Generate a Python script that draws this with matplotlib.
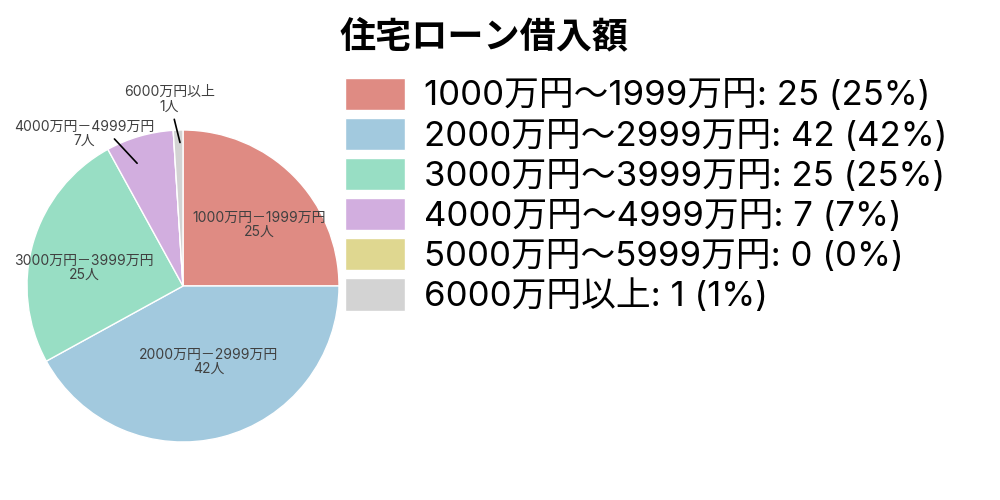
import numpy as np
import matplotlib
matplotlib.use("Agg")
import matplotlib.pyplot as plt

plt.rcParams['font.family'] = ['Inter', 'Noto Sans CJK JP', 'DejaVu Sans']

# data
pie_names = ["1000万円－1999万円", "2000万円－2999万円", "3000万円－3999万円",
             "4000万円－4999万円", "5000万円－5999万円", "6000万円以上"]
legend_names = ["1000万円〜1999万円", "2000万円〜2999万円", "3000万円〜3999万円",
                "4000万円〜4999万円", "5000万円〜5999万円", "6000万円以上"]
counts = [25, 42, 25, 7, 0, 1]
colors = ["#DF8B83", "#A2C9DE", "#98DEC4", "#D2AEDF", "#DFD790", "#D3D3D3"]

total = sum(counts)


def polar(r, deg):
    a = np.deg2rad(deg)
    return r * np.cos(a), r * np.sin(a)


fig = plt.figure(figsize=(10, 5), dpi=100)
ax = fig.add_axes([0.027, 0.116, 0.312, 0.624])

wedges, _ = ax.pie(counts, colors=colors, startangle=90, counterclock=False,
                   radius=1, wedgeprops=dict(edgecolor="white", linewidth=1))
ax.set_xlim(-1, 1)
ax.set_ylim(-1, 1)
ax.set_aspect("equal")
ax.axis("off")

# label layout: inside labels (radius, angle shift)
inside_pos = {0: (0.625, -6.3), 1: (0.515, 4.4), 2: (0.645, 5.8)}
# outside labels: (line start r, shift), (line end r, shift), (text r, shift)
outside_pos = {3: ((0.84, 4.3), (1.04, 8.8), (1.16, 16.8)),
               5: ((0.92, -0.6), (1.07, 1.2), (1.2, 2.4))}

for i, w in enumerate(wedges):
    if counts[i] == 0:
        continue
    mid = (w.theta1 + w.theta2) / 2
    txt = f"{pie_names[i]}\n{counts[i]}人"
    if i in inside_pos:
        r, d = inside_pos[i]
        ax.text(*polar(r, mid + d), txt, ha="center", va="center",
                fontsize=10, color="#404040", linespacing=1.0)
    else:
        (r1, d1), (r2, d2), (r3, d3) = outside_pos[i]
        ax.annotate("", xy=polar(r1, mid + d1), xytext=polar(r2, mid + d2),
                    annotation_clip=False,
                    arrowprops=dict(arrowstyle="-", color="black", lw=1.2,
                                    shrinkA=0, shrinkB=0))
        ax.text(*polar(r3, mid + d3), txt, ha="center", va="center",
                fontsize=10, color="#404040", linespacing=1.0, clip_on=False)

fig.text(0.484, 0.926, "住宅ローン借入額", ha="center", va="center",
         fontsize=26, fontweight="bold", family=["Noto Sans CJK JP"])

labels = [f"{legend_names[i]}: {counts[i]} ({counts[i] / total * 100:.0f}%)"
          for i in range(len(counts))]
handles = [plt.Rectangle((0, 0), 1, 1, facecolor=c, edgecolor="white") for c in colors]
fig.legend(handles, labels, loc="upper left", bbox_to_anchor=(0.345, 0.845),
           frameon=False, fontsize=25, handlelength=1.73, handleheight=1.05,
           handletextpad=0.55, labelspacing=0.15, borderpad=0, borderaxespad=0)

fig.savefig("out.png", dpi=100)
